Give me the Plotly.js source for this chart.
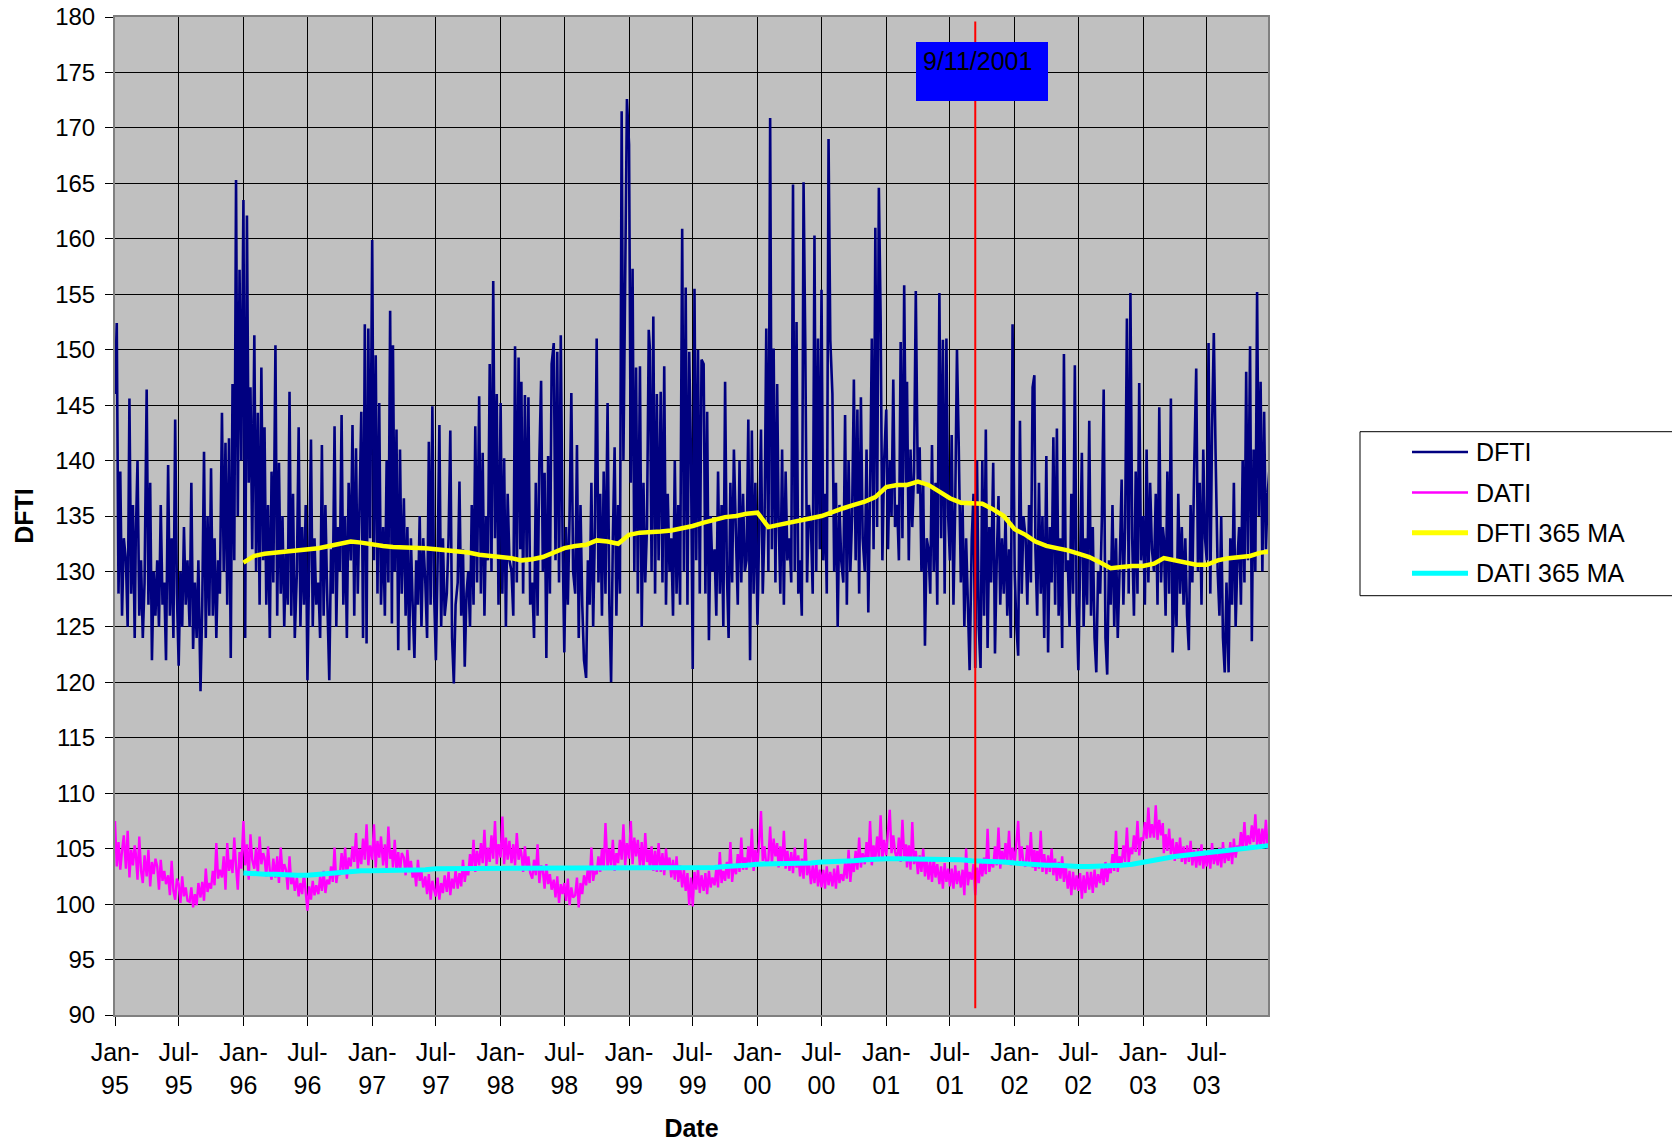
<!DOCTYPE html>
<html>
<head>
<meta charset="utf-8">
<script src="https://cdn.plot.ly/plotly-3.0.1.min.js"></script>
<style>html,body{margin:0;padding:0;background:#fff;}#chart{width:1672px;height:1142px;}</style>
</head>
<body>
<div id="chart"></div>
<script>
// ---- tick labels ----
const tickVals = ['1995-01-01','1995-07-01','1996-01-01','1996-07-01','1997-01-01','1997-07-01','1998-01-01','1998-07-01','1999-01-01','1999-07-01','2000-01-01','2000-07-01','2001-01-01','2001-07-01','2002-01-01','2002-07-01','2003-01-01','2003-07-01'];
const tickText = ['Jan-<br>95','Jul-<br>95','Jan-<br>96','Jul-<br>96','Jan-<br>97','Jul-<br>97','Jan-<br>98','Jul-<br>98','Jan-<br>99','Jul-<br>99','Jan-<br>00','Jul-<br>00','Jan-<br>01','Jul-<br>01','Jan-<br>02','Jul-<br>02','Jan-<br>03','Jul-<br>03'];

// sample days within each month
const years = [1995,1996,1997,1998,1999,2000,2001,2002,2003];
const sampleDays = [1,6,11,16,21,26];

// ---- DFTI (6 readings per month, Jan..Dec) ----
const dfti1995 = [146,152.4,128,139,126,133, 131,125,145.6,128,136,124, 133,140,126,131,124,129, 146.4,127,138,122,130,126, 131,125,136,127,129,122, 139.6,126,133,124,143.7,128, 121.5,130,125,134,127,131, 125,138,123,129,124,131, 119.2,127,140.8,124,135,126, 139.3,126,133,124,131,128, 144.3,130,141.6,127,142,122.2, 146.9,131,165.3,135,157.2,140];
const dfti1996 = [163.5,124,162.1,138,146.6,132, 151.3,130,144.3,127,148.4,131, 143,127,136,124,139,129, 150.4,126,139.8,128,135,125, 132,127,146.2,126,137,124, 130,143,125,134,127,136, 120.2,131,141.9,125,133,127, 129,124,141.4,126,136,128, 120.2,132,128,143.1,125,134, 130,144.1,127,135,124,138, 131,143.2,126,141.1,128,136, 144.4,124,152.3,123.5,151.9,133];
const dfti1997 = [159.9,131,149.5,128,145.2,127, 134,126,140,129,153.5,125.3, 150.4,130,142.8,122.9,141,128, 136.6,126,134,122.9,133,127, 122.2,131,127,135,125,133, 129,124,141.7,127,144.9,128, 122,131,143.2,125,133,126, 128,133,142.7,124,119.9,127, 129,138.1,126,132,121.4,128, 130,125,136,127,143.1,129, 145.8,128,140.7,126,135,131, 148.7,130,156.2,133,146,127];
const dfti1998 = [145.2,128,140.2,125,137,131, 130,126,150.3,129,149.3,132, 147.1,128,145.9,131,145.7,127, 129,124,138,126,140,147.2, 130,138.9,122.2,140.4,128,148.7, 150.6,131,149.8,129,151.3,133, 122.7,134,127,135,146.1,130, 128,141.4,124,136,127,122, 120.4,131,127,138,125,134, 151,129,137,126,139,128, 145.2,127,120,133,141.2,126, 136,128,171.5,140,158,172.6];
const dfti1999 = [168.5,138,157.3,130,148.4,128, 148.5,125,138,129,134,151.8, 150.2,130,153,128,146,131, 146.2,129,148.5,127,137,130, 133,126,140,128,136,127, 160.9,130,155.6,127,149.8,140.5, 121.2,155.5,131,150,128,149.1, 148.7,128,144.4,123.8,135,130, 132,126,139,128,136,125, 147.1,130,124,138,129,141, 133,127,140,129,137,130, 131,143.7,122,142.7,128,138];
const dfti2000 = [125.2,136,142.8,128,134,151.9, 130,170.9,132,150.1,129,146.9, 135,128,141,127,139,131, 133,129,164.9,130,152.5,128, 131,126,165.1,150.1,129,136, 134,128,160.3,130,151,132, 155.4,131,137,128,169,150.9, 146,130,138,125,136,131, 129,144.1,127,140,130,135, 147.3,131,144.6,128,145.7,133, 130,141,126.3,137,151,132, 161,134,164.6,153,131,140];
const dfti2001 = [144.6,132,140,135,147.3,134, 136,131,150.7,133,155.8,138, 147.1,131,141,134,139,155.3, 137,141.2,130,138,123.3,133, 132,128,141.4,130,138,127, 155.1,133,150.9,128,151,135, 131,142.3,127,136,150,141.4, 129,136,125,133,127,121.1, 133,137,121.3,140,125,121.3, 140,126,142.8,123.1,134,129, 139.8,122.6,131,136.8,127,133, 128,135,126,132,124,152.3];
const dfti2002 = [130,125,122.4,143.6,128,135, 133,127,136,129,146.6,147.7, 132,126,138,128,135,124, 140.4,122.7,134,129,142.1,127, 142.9,126,133,123.1,149.6,130, 131,125,137,128,148.6,127, 121.1,130,140.7,125,133,127, 143.6,126,134,124,120.9,130, 128,135,146.4,124,120.7,131, 127,136,125,133,124,130, 138.3,127,134,152.8,128,155.1, 133,126,139,128,147,131];
const dfti2003 = [135,127,141,129,138,132, 130,137,127,144.8,129,134, 133,126,139,128,145.6,122.7, 131,125,137,128,134,127, 133,126,122.9,136,129,139, 148.3,130,138,127,141,133, 131,150.6,128,142.9,151.5,140.7, 130,126,135,124,120.9,129, 120.9,133,127,138,125,131, 134,127,140,129,148,131, 150.3,123.7,141,130,155.2,135, 147.1,130,144.4,132,137,139.2];

// ---- DATI (6 readings per month, Jan..Dec) ----
const dati1995 = [107.5,103.4,105.6,103.1,104.8,106.2, 103.2,106.6,102.4,104.9,103.5,105.3, 104.6,102.2,106.1,103.0,101.9,104.4, 102.5,104.9,101.6,103.8,102.7,104.1, 103.4,101.3,104.0,102.1,103.0,101.8, 102.6,100.8,103.9,101.2,100.4,102.3, 101.8,100.1,102.5,100.7,101.5,100.3, 100.2,101.5,99.7,100.9,99.9,101.9, 100.6,102.0,100.3,103.2,101.1,101.9, 101.4,103.0,101.7,105.5,102.3,103.1, 102.4,104.3,101.3,105.5,103.0,104.0, 102.8,106.0,103.4,101.3,104.7,103.2];
const dati1996 = [107.5,103.5,105.4,102.2,106.3,104.0, 103.2,105.1,102.6,106.1,103.6,104.6, 104.2,102.5,105.2,103.0,102.2,104.1, 102.4,104.3,101.9,105.1,102.8,103.6, 103.1,101.3,104.3,101.8,102.6,101.2, 102.4,100.7,101.9,100.9,102.8,101.1, 99.4,101.6,100.4,102.1,100.8,101.7, 100.9,102.5,101.2,103.0,101.0,102.2, 101.8,103.4,102.0,105.1,101.9,103.0, 102.6,104.6,103.0,105.1,102.3,104.2, 103.4,105.2,103.8,106.4,103.1,105.0, 103.6,105.9,104.0,107.2,103.5,105.3];
const dati1997 = [104.0,107.2,103.3,105.7,104.2,106.1, 103.5,105.4,103.2,107.0,104.1,104.9, 103.3,105.8,103.0,104.7,102.9,104.6, 104.2,102.6,104.9,102.9,103.9,102.4, 103.2,101.6,104.0,102.1,102.9,101.5, 102.5,100.9,102.7,100.4,102.1,101.3, 100.7,102.4,100.4,101.9,101.0,102.6, 101.1,102.9,100.8,102.3,101.4,103.1, 101.4,102.8,101.6,104.0,102.0,103.2, 102.6,104.5,103.1,105.8,102.9,104.8, 103.5,105.5,103.7,106.7,103.4,105.1, 103.8,106.2,104.1,107.5,103.6,105.4];
const dati1998 = [104.2,107.9,103.6,106.0,104.0,105.7, 103.7,105.4,103.5,106.4,104.0,105.0, 104.6,102.9,105.2,103.2,104.3,102.8, 102.3,104.0,102.6,105.4,101.9,103.5, 103.0,101.4,103.6,101.8,102.7,101.3, 102.2,100.6,102.5,100.1,101.8,100.9, 101.9,100.3,102.3,99.9,101.5,100.6, 100.8,102.4,99.7,101.9,100.9,102.6, 101.7,103.3,101.9,105.1,102.1,103.0, 102.7,104.3,102.9,105.0,103.1,107.3, 103.2,105.0,103.5,105.8,103.0,104.6, 103.7,105.8,104.0,107.2,103.5,105.5];
const dati1999 = [104.1,107.5,103.6,106.0,104.3,105.8, 103.4,105.6,103.2,106.4,103.8,104.9, 103.2,105.2,103.0,104.8,102.9,105.5, 102.9,104.6,102.6,105.0,103.1,104.2, 102.4,104.0,102.2,104.3,102.0,103.5, 101.5,103.1,101.2,102.8,99.9,102.4, 99.8,102.9,101.3,103.2,101.0,102.6, 101.2,102.8,100.9,103.0,101.5,102.4, 101.7,103.2,101.5,104.7,101.9,103.0, 102.1,103.8,102.3,105.6,102.0,103.6, 102.7,104.5,102.9,106.0,103.1,104.2, 103.1,105.2,103.4,106.8,103.0,104.9];
const dati2000 = [103.6,105.7,108.4,103.9,105.2,103.5, 104.0,107.0,103.6,105.9,104.3,105.5, 103.3,105.2,103.5,106.6,103.2,104.8, 103.0,104.7,102.8,105.1,103.3,104.4, 102.5,104.1,102.3,105.9,102.6,103.8, 101.8,103.5,101.9,103.8,101.6,103.1, 101.5,103.1,101.4,103.4,101.7,102.9, 101.6,103.2,101.4,103.5,101.9,102.7, 102.1,103.7,102.3,104.9,102.0,103.8, 102.9,104.8,103.1,106.0,103.3,104.6, 103.6,105.6,103.8,107.5,103.5,105.3, 104.0,106.1,104.2,108.0,103.9,105.8];
const dati2001 = [104.4,106.6,108.5,104.6,106.2,104.7, 104.0,106.0,103.8,107.6,104.3,105.4, 103.3,105.3,103.1,107.4,103.6,104.8, 102.7,104.4,102.9,105.0,102.5,104.1, 102.2,103.9,102.0,104.2,102.4,103.6, 101.8,103.4,101.4,103.7,102.0,103.2, 101.6,103.2,101.4,103.5,101.8,103.0, 101.5,103.1,100.8,105.0,101.7,102.9, 102.2,103.6,100.8,103.3,101.9,103.8, 102.5,104.2,102.7,106.8,102.9,104.0, 103.3,105.2,103.5,106.9,103.2,104.8, 103.6,105.5,103.8,106.6,103.5,105.1];
const dati2002 = [103.7,105.6,107.5,103.9,105.2,103.6, 103.4,105.3,103.6,106.5,103.3,104.9, 103.0,104.8,103.2,106.6,102.9,104.5, 102.7,104.4,102.9,105.0,102.6,104.1, 102.1,103.8,102.3,104.3,102.0,103.5, 101.4,103.0,100.8,102.9,101.3,102.6, 101.2,102.8,100.5,102.6,101.0,102.9, 101.3,102.9,101.0,103.1,101.5,102.7, 101.9,103.4,101.7,103.8,102.0,103.3, 102.8,104.5,103.0,106.6,102.9,104.3, 103.6,105.3,103.8,106.9,103.7,105.1, 104.5,106.2,104.7,107.5,104.4,106.0];
const dati2003 = [105.7,107.4,105.9,108.7,106.0,107.2, 106.0,108.9,105.8,107.6,106.2,107.3, 104.6,106.3,104.8,106.8,104.5,105.9, 103.9,105.6,104.1,106.0,103.8,105.2, 103.6,105.3,103.8,105.7,103.5,104.9, 103.3,105.0,103.5,105.4,103.2,104.6, 103.4,104.9,103.2,105.5,103.6,104.7, 103.5,105.1,103.3,105.6,103.7,104.8, 103.9,105.6,103.6,105.9,104.2,105.3, 104.8,106.5,105.0,107.4,104.9,106.2, 105.4,107.1,105.6,108.1,105.3,106.8, 105.1,106.8,105.3,107.6,105.0,106.5];

// ---- 365-day moving averages (first of each month, Jan-96 .. Dec-03, then 31 Dec 2003) ----
const maDates = [];
const dftiMA = [130.8,131.4,131.6,131.7,131.8,131.9,132.0,132.1,132.3,132.5,132.7,132.6,
  132.5,132.3,132.2,132.2,132.1,132.1,132.0,131.9,131.8,131.7,131.5,131.4,
  131.3,131.2,131.0,131.1,131.3,131.7,132.1,132.3,132.4,132.8,132.7,132.5,
  133.3,133.5,133.5,133.6,133.7,133.9,134.1,134.4,134.7,134.9,135.0,135.2,
  135.3,134.0,134.2,134.4,134.5,134.8,135.0,135.4,135.7,136.0,136.3,136.7,
  137.6,137.8,137.8,138.1,137.8,137.2,136.6,136.2,136.1,136.1,135.6,135.0,
  133.8,133.3,132.7,132.3,132.1,131.9,131.6,131.3,130.8,130.3,130.4,130.5,
  130.5,130.7,131.2,131.0,130.9,130.6,130.6,131.0,131.2,131.3,131.4,131.7,
  131.8];
const datiMA = [102.8,102.7,102.7,102.7,102.6,102.6,102.6,102.7,102.8,102.9,102.9,103.0,
  103.0,103.0,103.0,103.1,103.1,103.1,103.2,103.2,103.2,103.3,103.3,103.3,
  103.3,103.3,103.3,103.3,103.3,103.2,103.2,103.2,103.2,103.2,103.3,103.3,
  103.3,103.3,103.3,103.3,103.3,103.3,103.3,103.3,103.3,103.4,103.4,103.5,
  103.6,103.6,103.6,103.7,103.7,103.7,103.8,103.8,103.9,103.9,104.0,104.1,
  104.1,104.1,104.1,104.1,104.0,104.0,104.0,104.0,103.9,103.9,103.9,103.8,
  103.7,103.6,103.6,103.5,103.5,103.4,103.4,103.4,103.4,103.5,103.5,103.6,
  103.8,104.0,104.2,104.3,104.4,104.5,104.6,104.8,104.9,105.0,105.1,105.2,
  105.3];

// ---- series names / colours for legend ----
const seriesNames = ['DFTI','DATI','DFTI 365 MA','DATI 365 MA'];
const seriesColors = ['#000080','#FF00FF','#FFFF00','#00FFFF'];
const seriesWidths = [2.6, 2.4, 4.5, 5];

// ---- event marker ----
const eventDate = '2001-09-11';
const eventLabel = '9/11/2001';
const eventLineY = [90.6, 179.6];

// ---- build date lists ----
function pad(n){return (n<10?'0':'')+n;}
const dailyDates = [];
years.forEach(function(y){
  for (let m=1;m<=12;m++){
    sampleDays.forEach(function(d){ dailyDates.push(y+'-'+pad(m)+'-'+pad(d)); });
  }
});
for (let y=1996;y<=2003;y++){ for (let m=1;m<=12;m++){ maDates.push(y+'-'+pad(m)+'-01'); } }
maDates.push('2003-12-31');

const dfti = [].concat(dfti1995,dfti1996,dfti1997,dfti1998,dfti1999,dfti2000,dfti2001,dfti2002,dfti2003);
const dati = [].concat(dati1995,dati1996,dati1997,dati1998,dati1999,dati2000,dati2001,dati2002,dati2003);

const FONT = 'Liberation Sans, Arial, Helvetica, sans-serif';

const seriesX = [dailyDates, dailyDates, maDates, maDates];
const seriesY = [dfti, dati, dftiMA, datiMA];
const traces = seriesNames.map(function(n,i){
  return {x: seriesX[i], y: seriesY[i], type:'scatter', mode:'lines', name:n,
          line:{color:seriesColors[i], width:seriesWidths[i]}, showlegend:false};
});

const plotL = 115, plotR = 1268, plotT = 17, plotB = 1015;
const pw = plotR - plotL, ph = plotB - plotT;
function px(xp){return (xp - plotL)/pw;}
function py(yp){return (plotB - yp)/ph;}

// legend drawn as a framed box at the right, extending past the page edge as in the original
const legTop = 431.7, legBottom = 595.7, legLeft = 1360;
const legRows = [452, 492.5, 532.7, 573.3];
const legendShapes = [
  {type:'rect', xref:'paper', yref:'paper', x0:px(legLeft), x1:px(1720), y0:py(legBottom), y1:py(legTop), fillcolor:'#FFFFFF', line:{color:'#000000', width:1}, layer:'above'}
];
const legendAnn = [];
seriesNames.forEach(function(n,i){
  legendShapes.push({type:'line', xref:'paper', yref:'paper', x0:px(1412), x1:px(1468), y0:py(legRows[i]), y1:py(legRows[i]),
    line:{color:seriesColors[i], width:(i<2?2.6:5)}, layer:'above'});
  legendAnn.push({xref:'paper', yref:'paper', x:px(1474), y:py(legRows[i]), xanchor:'left', yanchor:'middle', text:n, showarrow:false,
    font:{family:FONT, size:25, color:'#000'}});
});

const layout = {
  width:1672, height:1142,
  margin:{l:plotL, r:1672-plotR, t:plotT, b:1142-plotB, pad:0},
  paper_bgcolor:'#FFFFFF', plot_bgcolor:'#C0C0C0',
  font:{family:FONT, size:24, color:'#000000'},
  hovermode:false,
  showlegend:false,
  xaxis:{
    type:'date', range:['1995-01-01','2003-12-22'],
    tickmode:'array', tickvals:tickVals, ticktext:tickText, tickangle:0,
    ticks:'outside', ticklen:9, tickcolor:'#000000', tickwidth:1,
    ticklabelstandoff:5,
    showgrid:true, gridcolor:'#000000', gridwidth:1,
    showline:true, linecolor:'#808080', linewidth:2, mirror:true, zeroline:false,
    tickfont:{family:FONT, size:25, color:'#000'},
    title:{text:'Date', font:{family:FONT, size:25, color:'#000', weight:'bold'}, standoff:23}
  },
  yaxis:{
    range:[90,180], tick0:90, dtick:5,
    ticks:'outside', ticklen:8, tickcolor:'#000000', tickwidth:1,
    ticklabelstandoff:5,
    showgrid:true, gridcolor:'#000000', gridwidth:1,
    showline:true, linecolor:'#808080', linewidth:2, mirror:true, zeroline:false,
    tickfont:{family:FONT, size:24, color:'#000'},
    title:{text:'DFTI', font:{family:FONT, size:25, color:'#000', weight:'bold'}, standoff:14}
  },
  shapes:[
    {type:'line', xref:'x', yref:'y', x0:eventDate, x1:eventDate, y0:eventLineY[0], y1:eventLineY[1], line:{color:'#FF0000', width:2}, layer:'above'},
    {type:'rect', xref:'paper', yref:'paper', x0:px(916), x1:px(1048), y0:py(101), y1:py(42), fillcolor:'#0000FF', line:{width:0}, layer:'above'}
  ].concat(legendShapes),
  annotations:[
    {xref:'paper', yref:'paper', x:px(921), y:py(61), xanchor:'left', yanchor:'middle', text:eventLabel, showarrow:false, font:{family:FONT, size:25, color:'#000000'}}
  ].concat(legendAnn)
};

Plotly.newPlot('chart', traces, layout, {displayModeBar:false, staticPlot:true});
</script>
</body>
</html>
